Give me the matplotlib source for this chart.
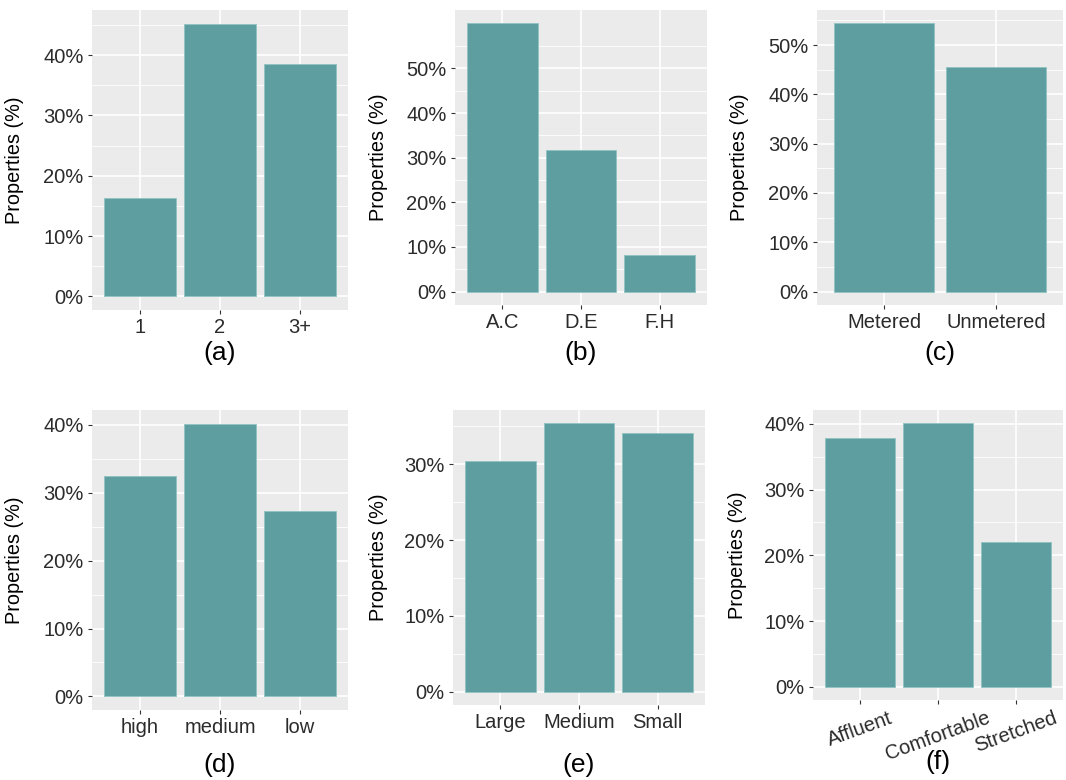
import matplotlib
matplotlib.use("Agg")
import matplotlib.pyplot as plt
from matplotlib.ticker import FixedLocator, FuncFormatter

plt.rcParams['font.family'] = ['Liberation Sans', 'DejaVu Sans']

# ---- data ----
cats_a = ["1", "2", "3+"]
vals_a = [16.3, 45.2, 38.5]
cats_b = ["A.C", "D.E", "F.H"]
vals_b = [60.1, 31.7, 8.2]
cats_c = ["Metered", "Unmetered"]
vals_c = [54.4, 45.6]
cats_d = ["high", "medium", "low"]
vals_d = [32.5, 40.2, 27.3]
cats_e = ["Large", "Medium", "Small"]
vals_e = [30.5, 35.4, 34.1]
cats_f = ["Affluent", "Comfortable", "Stretched"]
vals_f = [37.8, 40.1, 22.1]
panel_labels = ["(a)", "(b)", "(c)", "(d)", "(e)", "(f)"]
ytick_max = [40, 50, 50, 40, 30, 40]

W, H = 1066, 780
fig = plt.figure(figsize=(W / 100, H / 100), dpi=100)
fig.patch.set_facecolor("white")

BAR = "#5F9EA0"
BG = "#EBEBEB"

# panel boxes in pixels: left, top, right, bottom ; ylabel x ; panel label y
panels = [
    (cats_a, vals_a, (92, 10, 348, 310), 24, 353, 0),
    (cats_b, vals_b, (455, 10, 707, 305), 388, 353, 0),
    (cats_c, vals_c, (817, 10, 1063, 305), 749, 353, 0),
    (cats_d, vals_d, (92, 410, 348, 710), 24, 765, 0),
    (cats_e, vals_e, (453, 410, 705, 705), 388, 765, 0),
    (cats_f, vals_f, (813, 410, 1063, 700), 747, 762, 20),
]

for i, (cats, vals, (l, t, r, b), ylx, ply, rot) in enumerate(panels):
    ax = fig.add_axes([l / W, (H - b) / H, (r - l) / W, (b - t) / H])
    ax.set_facecolor(BG)
    n = len(cats)
    x = list(range(1, n + 1))
    vmax = max(vals)
    ytop = 1.05 * vmax
    ax.set_ylim(-0.05 * vmax, ytop)
    ax.set_xlim(0.4, n + 0.6)
    majors = [v for v in range(0, ytick_max[i] + 1, 10)]
    minors = [v + 5 for v in range(0, 101, 10) if v + 5 <= ytop]
    for m in minors:
        ax.axhline(m, color="white", lw=0.6, zorder=0.5)
    for m in majors:
        ax.axhline(m, color="white", lw=1.2, zorder=0.6)
    for xi in x:
        ax.axvline(xi, color="white", lw=1.2, zorder=0.6)
    ax.bar(x, vals, width=0.9, color=BAR, edgecolor="#8FC2C2", linewidth=0.6, zorder=2)
    ax.yaxis.set_major_locator(FixedLocator(majors))
    ax.yaxis.set_major_formatter(FuncFormatter(lambda v, p: f"{int(round(v))}%"))
    ax.set_xticks(x)
    if rot:
        ax.set_xticklabels(cats, rotation=rot, ha="center")
    else:
        ax.set_xticklabels(cats)
    ax.tick_params(axis="both", length=3, width=0.8, color="#333333",
                   labelsize=14.5, labelcolor="#2B2B2B", pad=3)
    for s in ax.spines.values():
        s.set_visible(False)
    ax.set_ylabel("Properties (%)", fontsize=14.3, color="black")
    ax.yaxis.set_label_coords((ylx - l) / (r - l), 0.5)
    fig.text(((l + r) / 2) / W, 1 - ply / H, panel_labels[i], ha="center",
             va="center", fontsize=19, color="black")

fig.savefig("out.png", dpi=100)
